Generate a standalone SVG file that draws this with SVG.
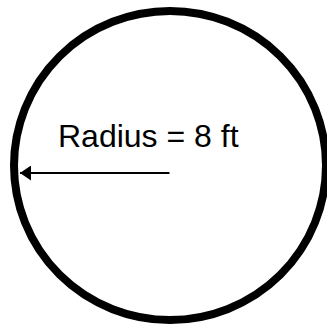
<svg xmlns="http://www.w3.org/2000/svg" width="327" height="328" viewBox="0 0 327 328">
  <defs>
    <style>
      .outline { fill: none; stroke: #000; stroke-width: 8; }
      .conn { stroke: #000; stroke-width: 2; fill: none; }
      .label { font-family: "Liberation Sans", Arial, sans-serif; font-size: 32px; fill: #000; }
    </style>
    <marker id="arrow" markerUnits="userSpaceOnUse" markerWidth="11" markerHeight="15" refX="11" refY="7.5" orient="auto-start-reverse" viewBox="0 0 11 15">
      <path d="M0,0 L11,7.5 L0,15 Z" fill="#000"/>
    </marker>
  </defs>
  <rect width="327" height="328" fill="#fff"/>
  <g id="circle">
    <ellipse class="outline" cx="170" cy="165.5" rx="156" ry="154.5"/>
  </g>
  <g id="label">
    <text class="label" x="58" y="146.5">Radius = 8 ft</text>
  </g>
  <g id="connectors">
    <line class="conn" x1="20" y1="173" x2="169.5" y2="173" marker-start="url(#arrow)"/>
  </g>
</svg>
